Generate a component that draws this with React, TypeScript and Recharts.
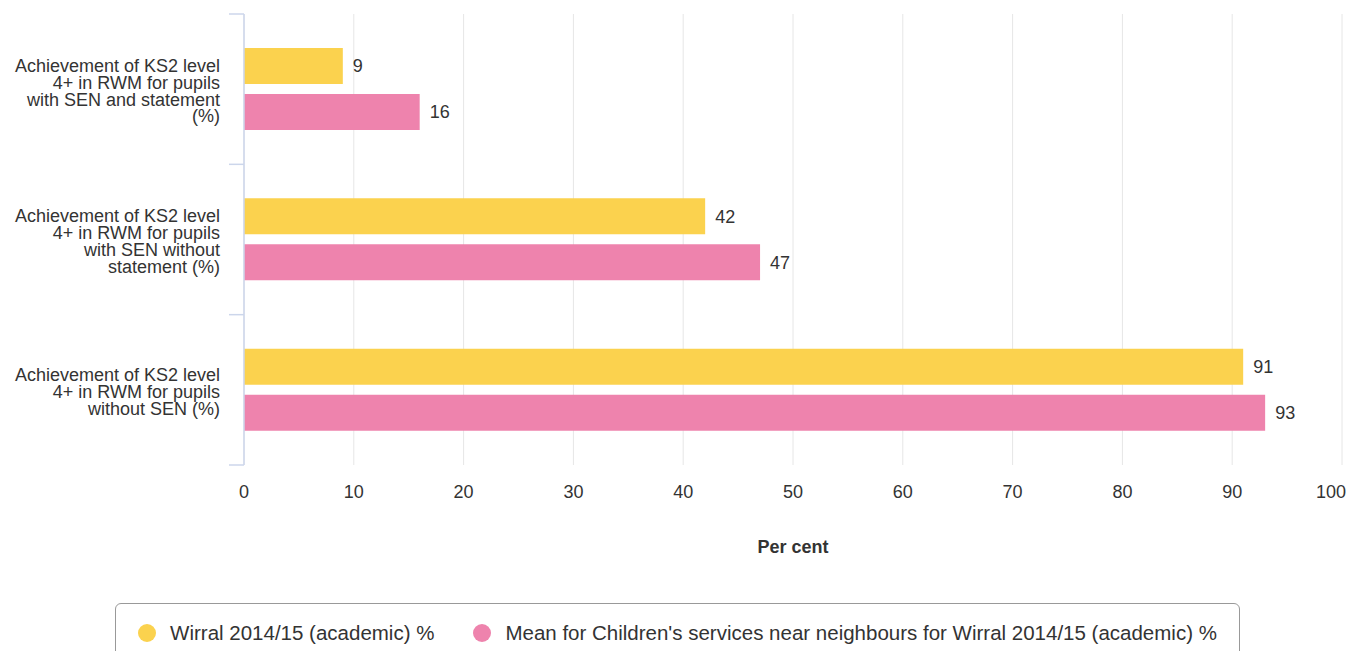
import { Bar, BarChart, CartesianGrid, Label, LabelList, Legend, XAxis, YAxis } from "recharts";

const FONT = '"Liberation Sans", Arial, sans-serif';
const AXIS_COLOR = "#ccd6eb";
const CAT_MARGIN = 24;
const CAT_TICK = 15;

const categories = [
  "Achievement of KS2 level\n4+ in RWM for pupils\nwith SEN and statement\n(%)",
  "Achievement of KS2 level\n4+ in RWM for pupils\nwith SEN without\nstatement (%)",
  "Achievement of KS2 level\n4+ in RWM for pupils\nwithout SEN (%)",
];
const wirral = [9, 42, 91];
const neighbours = [16, 47, 93];
const seriesNames = [
  "Wirral 2014/15 (academic) %",
  "Mean for Children's services near neighbours for Wirral 2014/15 (academic) %",
];
const xTicks = [0, 10, 20, 30, 40, 50, 60, 70, 80, 90, 100];

const data = categories.map((name, i) => ({ name, wirral: wirral[i], neighbours: neighbours[i] }));

// label at the band centre, tick marks on the band edges (Highcharts style)
function CategoryTick({ x, y, payload, index, visibleTicksCount }: any) {
  const lines = String(payload.value).split("\n");
  const step = 16.7;
  const half = payload.offset;
  const axisX = x + CAT_MARGIN;
  const isLast = index === visibleTicksCount - 1;
  return (
    <g>
      {typeof half === "number" && (
        <line x1={axisX - CAT_TICK} x2={axisX} y1={y - half} y2={y - half} stroke={AXIS_COLOR} strokeWidth={1.5} />
      )}
      {typeof half === "number" && isLast && (
        <line x1={axisX - CAT_TICK} x2={axisX} y1={y + half} y2={y + half} stroke={AXIS_COLOR} strokeWidth={1.5} />
      )}
      <text x={x} y={y} textAnchor="end" fill="#333" fontSize={18} fontFamily={FONT}>
        {lines.map((line, i) => (
          <tspan key={i} x={x} y={y + 1.5 + (i - (lines.length - 1) / 2) * step + 6.5}>
            {line}
          </tspan>
        ))}
      </text>
    </g>
  );
}

function ValueTick({ x, y, payload }: any) {
  const last = payload.value === xTicks[xTicks.length - 1];
  return (
    <text x={last ? x + 4 : x} y={y} dy="0.71em" textAnchor={last ? "end" : "middle"} fill="#333" fontSize={18} fontFamily={FONT}>
      {payload.value}
    </text>
  );
}

function LegendBox({ payload }: any) {
  const items = [...(payload || [])].sort(
    (a: any, b: any) => seriesNames.indexOf(a.value) - seriesNames.indexOf(b.value)
  );
  return (
    <div
      style={{
        boxSizing: "border-box",
        width: 1125,
        height: 70,
        border: "1px solid #999",
        borderRadius: 6,
        display: "flex",
        justifyContent: "center",
        alignItems: "flex-start",
        paddingTop: 17,
        gap: 39,
        fontFamily: FONT,
      }}
    >
      {items.map((p: any) => (
        <div key={p.value} style={{ display: "flex", alignItems: "center", gap: 14, fontSize: 20.5, color: "#333", lineHeight: "24px" }}>
          <span style={{ width: 18, height: 18, borderRadius: "50%", background: p.color, display: "inline-block" }} />
          {p.value}
        </div>
      ))}
    </div>
  );
}

export default function App() {
  return (
    <div style={{ fontFamily: FONT }}>
      <BarChart
        width={1339}
        height={643}
        data={data}
        layout="vertical"
        margin={{ top: 6, right: 5, left: 0, bottom: 98 }}
        barGap={10}
      >
        <CartesianGrid horizontal={false} stroke="#e6e6e6" />
        <YAxis
          dataKey="name"
          type="category"
          width={236}
          axisLine={{ stroke: AXIS_COLOR, strokeWidth: 1.5 }}
          tickLine={false}
          tickSize={0}
          tickMargin={CAT_MARGIN}
          interval={0}
          tick={<CategoryTick />}
        />
        <XAxis
          type="number"
          domain={[0, 100]}
          ticks={xTicks}
          interval={0}
          axisLine={false}
          tickLine={false}
          tickSize={0}
          tickMargin={20}
          height={88}
          tick={<ValueTick />}
        >
          <Label value="Per cent" position="insideBottom" offset={0} fill="#333" fontSize={18} fontWeight="bold" fontFamily={FONT} />
        </XAxis>
        <Legend
          layout="vertical"
          align="center"
          verticalAlign="middle"
          wrapperStyle={{ top: 595, left: 107, width: 1125 }}
          content={<LegendBox />}
        />
        <Bar dataKey="wirral" name={seriesNames[0]} fill="#fbd24e" barSize={36} isAnimationActive={false}>
          <LabelList dataKey="wirral" position="right" offset={10} fill="#333" fontSize={18} fontFamily={FONT} />
        </Bar>
        <Bar dataKey="neighbours" name={seriesNames[1]} fill="#ee83ad" barSize={36} isAnimationActive={false}>
          <LabelList dataKey="neighbours" position="right" offset={10} fill="#333" fontSize={18} fontFamily={FONT} />
        </Bar>
      </BarChart>
    </div>
  );
}
